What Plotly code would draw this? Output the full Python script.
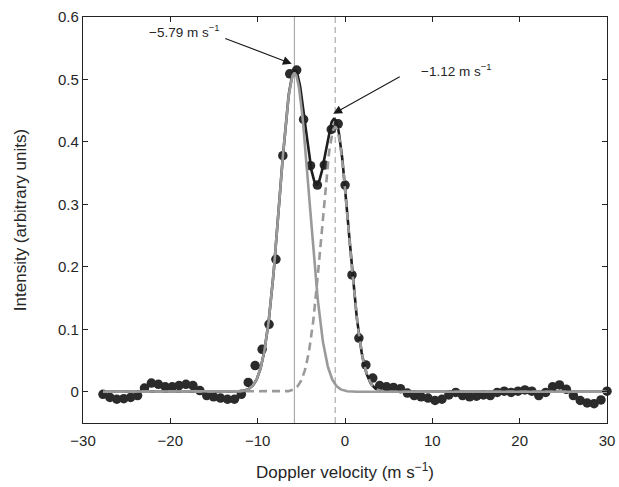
import numpy as np
import plotly.graph_objects as go

# Measured data (Doppler velocity, m/s ; intensity, arbitrary units)
velocity = [-27.71, -26.92, -26.13, -25.33, -24.54, -23.75, -22.96, -22.17, -21.37, -20.58,
            -19.79, -19.00, -18.21, -17.41, -16.62, -15.83, -15.04, -14.25, -13.45, -12.66,
            -11.87, -11.08, -10.29, -9.49, -8.70, -7.91, -7.12, -6.33, -5.53, -4.74,
            -3.95, -3.16, -2.37, -1.57, -0.78, 0.01, 0.80, 1.59, 2.39, 3.18,
            3.97, 4.76, 5.55, 6.35, 7.14, 7.93, 8.72, 9.51, 10.31, 11.10,
            11.89, 12.68, 13.47, 14.27, 15.06, 15.85, 16.64, 17.43, 18.23, 19.02,
            19.81, 20.60, 21.39, 22.19, 22.98, 23.77, 24.56, 25.35, 26.15, 26.94,
            27.73, 28.52, 29.31, 30.00]
intensity = [-0.004, -0.009, -0.012, -0.011, -0.009, -0.006, 0.006, 0.014, 0.012, 0.008,
             0.008, 0.010, 0.012, 0.010, 0.002, -0.006, -0.008, -0.010, -0.012, -0.012,
             -0.004, 0.015, 0.042, 0.068, 0.108, 0.212, 0.378, 0.509, 0.515, 0.436,
             0.362, 0.331, 0.363, 0.420, 0.429, 0.331, 0.187, 0.086, 0.043, 0.022,
             0.010, 0.008, 0.007, 0.005, -0.002, -0.006, -0.008, -0.010, -0.014, -0.012,
             -0.005, -0.001, -0.006, -0.008, -0.007, -0.005, -0.006, -0.001, 0.001, -0.001,
             0.001, 0.003, 0.001, -0.006, -0.001, 0.008, 0.011, 0.004, -0.006, -0.014,
             -0.018, -0.019, -0.013, 0.001]

# Two-component Gaussian fit parameters
fit_centers = [-5.79, -1.12]
fit_amplitudes = [0.510, 0.424]
fit_sigmas = [1.70, 1.55]
fit_range = [-27.71, 30.0]

center_labels = ["−5.79 m s<sup>−1</sup>", "−1.12 m s<sup>−1</sup>"]
x_ticks = [-30, -20, -10, 0, 10, 20, 30]
y_ticks = [0, 0.1, 0.2, 0.3, 0.4, 0.5, 0.6]

xf = np.linspace(fit_range[0], fit_range[1], 800)
g1 = fit_amplitudes[0] * np.exp(-(xf - fit_centers[0]) ** 2 / (2 * fit_sigmas[0] ** 2))
g2 = fit_amplitudes[1] * np.exp(-(xf - fit_centers[1]) ** 2 / (2 * fit_sigmas[1] ** 2))
gsum = g1 + g2

FONT = "Liberation Sans, Arial, sans-serif"
TXT = "#262626"

fig = go.Figure()

# vertical reference lines at fitted centres
fig.add_trace(go.Scatter(x=[fit_centers[0], fit_centers[0]], y=[-0.05, 0.6], mode="lines",
                         line=dict(color="#ababab", width=1.2), hoverinfo="skip", showlegend=False))
fig.add_trace(go.Scatter(x=[fit_centers[1], fit_centers[1]], y=[-0.05, 0.6], mode="lines",
                         line=dict(color="#ababab", width=1.2, dash="6px,4px"), hoverinfo="skip",
                         showlegend=False))

# data points
fig.add_trace(go.Scatter(x=velocity, y=intensity, mode="markers",
                         marker=dict(size=9.5, color="#2b2b2b"), cliponaxis=False, showlegend=False))

# sum fit (black), component fits (gray)
fig.add_trace(go.Scatter(x=xf, y=gsum, mode="lines", line=dict(color="#1e1e1e", width=2.6),
                         showlegend=False))
fig.add_trace(go.Scatter(x=xf, y=g1, mode="lines", line=dict(color="#9a9a9a", width=2.6),
                         showlegend=False))
fig.add_trace(go.Scatter(x=xf, y=g2, mode="lines",
                         line=dict(color="#9a9a9a", width=2.6, dash="8px,5px"), showlegend=False))

# annotations: arrows
fig.add_annotation(x=-6.1, y=0.525, ax=-68, ay=-26, xref="x", yref="y", text="",
                   showarrow=True, arrowhead=2, arrowsize=1.6, arrowwidth=1.1, arrowcolor="#1a1a1a")
fig.add_annotation(x=-1.35, y=0.445, ax=68, ay=-38, xref="x", yref="y", text="",
                   showarrow=True, arrowhead=2, arrowsize=1.6, arrowwidth=1.1, arrowcolor="#1a1a1a")
# annotation texts
fig.add_annotation(xref="paper", yref="paper", x=(184 - 82.5) / 525, y=(423 - 31) / 406,
                   text=center_labels[0], showarrow=False, xanchor="center", yanchor="middle",
                   font=dict(family=FONT, size=13.5, color=TXT))
fig.add_annotation(xref="paper", yref="paper", x=(456 - 82.5) / 525, y=(423 - 70) / 406,
                   text=center_labels[1], showarrow=False, xanchor="center", yanchor="middle",
                   font=dict(family=FONT, size=13.5, color=TXT))

axis_common = dict(showline=True, linecolor="#222222", linewidth=1.2, mirror="ticks",
                   ticks="inside", ticklen=5, tickcolor="#222222", tickwidth=1.2,
                   showgrid=False, zeroline=False, automargin=False,
                   tickfont=dict(family=FONT, size=15, color=TXT))

fig.update_xaxes(range=[-30, 30], tickvals=x_ticks, ticklabelstandoff=4,
                 title=dict(text="Doppler velocity (m s<sup>−1</sup>)",
                            font=dict(family=FONT, size=17, color=TXT), standoff=18),
                 **axis_common)
fig.update_yaxes(range=[-0.05, 0.6], tickvals=y_ticks,
                 ticktext=["0", "0.1", "0.2", "0.3", "0.4", "0.5", "0.6"],
                 title=dict(text="Intensity (arbitrary units)",
                            font=dict(family=FONT, size=17, color=TXT), standoff=27),
                 **axis_common)

fig.update_layout(width=619, height=487, margin=dict(l=82.5, r=11.5, t=17, b=64),
                  paper_bgcolor="white", plot_bgcolor="white", showlegend=False)

fig.write_html("out.html")
